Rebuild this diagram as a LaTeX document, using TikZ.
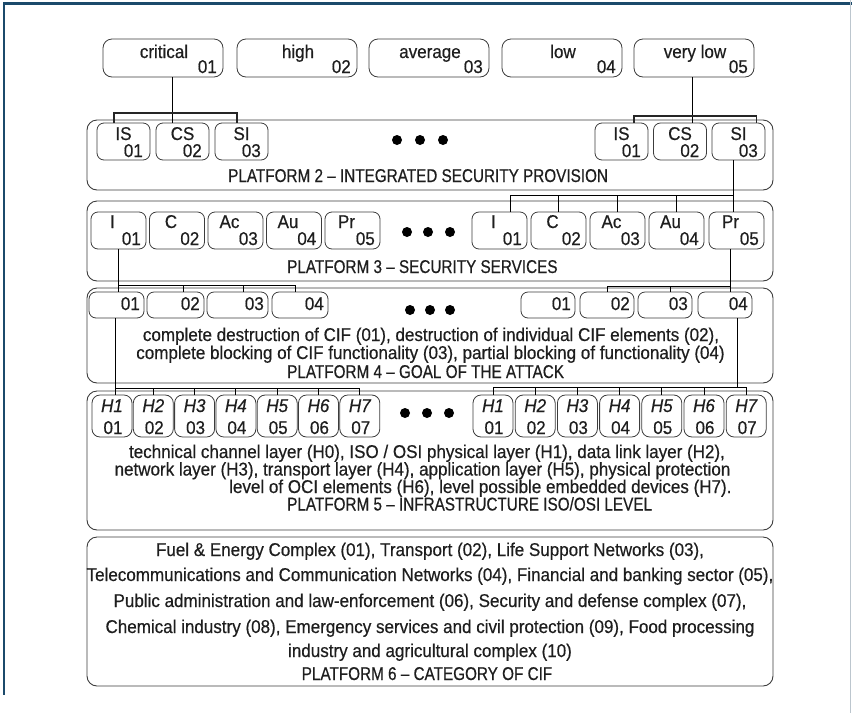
\documentclass[tikz,border=0pt]{standalone}
\usepackage{fontspec}
\setmainfont{Liberation Sans}
\newfontfamily\bodyf{Liberation Sans}[FakeStretch=0.92,FakeBold=0.5]
\newfontfamily\titlef{Liberation Sans}[FakeStretch=0.826,FakeBold=0.5]
\usetikzlibrary{calc}
\definecolor{frameblue}{HTML}{1B4A6B}
\definecolor{framegray}{HTML}{BCC6CE}
\definecolor{outl}{HTML}{3C3C3C}
\definecolor{ink}{HTML}{1E1E1E}
\begin{document}
\begin{tikzpicture}[x=1pt,y=-1pt,
  bigbox/.style={draw=outl, line width=0.9pt, rounded corners=10pt, inner sep=0pt, outer sep=0pt, anchor=north west},
  sbox/.style={draw=outl, line width=0.8pt, rounded corners=7pt, inner sep=0pt, outer sep=0pt, anchor=north west},
  conn/.style={draw=black, line width=0.9pt},
  brk/.style={draw=black!85, line width=1.6pt},
  bt/.style={font=\bodyf\fontsize{18.5}{18}\selectfont, text=ink, inner sep=0pt, anchor=base},
  btr/.style={bt, anchor=base east},
  btw/.style={bt, anchor=base west},
  tt/.style={font=\titlef\fontsize{18.5}{18}\selectfont, text=ink, inner sep=0pt, anchor=base west},
  ttc/.style={tt, anchor=base},
  ht/.style={font=\bodyf\itshape\fontsize{18.5}{18}\selectfont, text=ink, inner sep=0pt, anchor=base},
  bigdot/.style={circle, fill=black, minimum size=10pt, inner sep=0pt}]
\useasboundingbox (0,0) rectangle (852,713);
% frame
\draw[frameblue, line width=2.6pt] (852,3.5) -- (3.8,3.5) -- (3.8,695);
\draw[framegray, line width=1pt] (850.5,0) -- (850.5,713);

% top level boxes
\foreach \x/\lab/\num [count=\i] in {103/critical/01,237/high/02,369/average/03,502/low/04,634/very low/05}{
  \node[sbox, rounded corners=9pt, minimum width=120pt, minimum height=38pt] (t\i) at (\x,39) {};
  \node[bt] (tl\i) at ($(t\i.north)+(1,19)$) {\lab};
  \node[btr] (tn\i) at ($(t\i.north east)+(-6,34)$) {\num};
}

% platform 2
\node[bigbox, minimum width=686pt, minimum height=70pt] (p2) at (87,120) {};
\foreach \x/\lab/\num [count=\i] in {97/IS/01,156/CS/02,215/SI/03}{
  \node[sbox, minimum width=53pt, minimum height=37pt] (p2a\i) at (\x,123) {};
  \node[bt] (p2al\i) at ($(p2a\i.north)+(0,17)$) {\lab};
  \node[btr] (p2an\i) at ($(p2a\i.north east)+(-7,34)$) {\num};
}
\foreach \x/\lab/\num [count=\i] in {595/IS/01,653.5/CS/02,712/SI/03}{
  \node[sbox, minimum width=53pt, minimum height=37pt] (p2b\i) at (\x,123) {};
  \node[bt] (p2bl\i) at ($(p2b\i.north)+(0,17)$) {\lab};
  \node[btr] (p2bn\i) at ($(p2b\i.north east)+(-7,34)$) {\num};
}
\node[bigdot] (d2a) at (397,140) {};
\node[bigdot] (d2b) at (420,140) {};
\node[bigdot] (d2c) at (443,140) {};
\node[tt] (p2t) at (228,182) {PLATFORM 2 – INTEGRATED SECURITY PROVISION};

\draw[conn] ([xshift=9pt]t1.south) -- ([xshift=9pt]t1.south |- p2a2.north);
\draw[brk] ([xshift=-9.5pt]p2a1.north) -- ++(0,-10) -| ([xshift=-4.5pt]p2a3.north);
\draw[conn] ([xshift=-2pt]t5.south) -- ([xshift=-2pt]t5.south |- p2b2.north);
\draw[brk] ([xshift=12.5pt]p2b1.north) -- ++(0,-7) -| ([xshift=18pt]p2b3.north);

% platform 3
\node[bigbox, minimum width=686pt, minimum height=80pt] (p3) at (87,201) {};
\foreach \x/\lab/\num [count=\i] in {91/I/01,149.5/C/02,208/Ac/03,266.5/Au/04,325/Pr/05}{
  \node[sbox, minimum width=55pt, minimum height=37pt] (p3a\i) at (\x,212) {};
  \node[bt] (p3al\i) at ($(p3a\i.north)+(-6,16)$) {\lab};
  \node[btr] (p3an\i) at ($(p3a\i.north east)+(-5,33)$) {\num};
}
\foreach \x/\lab/\num [count=\i] in {472/I/01,531/C/02,590/Ac/03,649/Au/04,709/Pr/05}{
  \node[sbox, minimum width=55pt, minimum height=37pt] (p3b\i) at (\x,212) {};
  \node[bt] (p3bl\i) at ($(p3b\i.north)+(-6,16)$) {\lab};
  \node[btr] (p3bn\i) at ($(p3b\i.north east)+(-5,33)$) {\num};
}
\node[bigdot] (d3a) at (407,232) {};
\node[bigdot] (d3b) at (428,232) {};
\node[bigdot] (d3c) at (450,232) {};
\node[tt] (p3t) at (287,273) {PLATFORM 3 – SECURITY SERVICES};

\coordinate (bus3) at (0,195);
\draw[conn] ([xshift=-5pt]p2b3.south) -- ([xshift=-5pt]p2b3.south |- p3b5.north);
\draw[conn] ([xshift=11pt]p3b1.north) -- ([xshift=11pt]p3b1.north |- bus3) -- ([xshift=-5pt]p2b3.south |- bus3);
\foreach \k in {2,3,4} \draw[conn] (p3b\k.north) -- (p3b\k.north |- bus3);

% platform 4
\node[bigbox, minimum width=686pt, minimum height=95pt] (p4) at (87,288) {};
\foreach \x/\w/\num [count=\i] in {89/55pt/01,147/57pt/02,207/61pt/03,272/56pt/04}{
  \node[sbox, minimum width=\w, minimum height=26pt] (p4a\i) at (\x,292) {};
  \node[btr] (p4an\i) at ($(p4a\i.north east)+(-4,18)$) {\num};
}
\foreach \x/\w/\num [count=\i] in {521/54pt/01,580/54pt/02,638/54pt/03,698/54pt/04}{
  \node[sbox, minimum width=\w, minimum height=26pt] (p4b\i) at (\x,292) {};
  \node[btr] (p4bn\i) at ($(p4b\i.north east)+(-4,18)$) {\num};
}
\node[bigdot] (d4a) at (410,310) {};
\node[bigdot] (d4b) at (430,310) {};
\node[bigdot] (d4c) at (450,310) {};
\node[bt] (p4l1) at (431,341) {complete destruction of CIF (01), destruction of individual CIF elements (02),};
\node[bt] (p4l2) at (430.5,359) {complete blocking of CIF functionality (03), partial blocking of functionality (04)};
\node[tt] (p4t) at (287,378) {PLATFORM 4 – GOAL OF THE ATTACK};

\coordinate (bus4l) at (0,285);
\draw[conn] (p3a1.south) -- (p3a1.south |- p4a1.north);
\draw[conn] (p3a1.south |- bus4l) -- ([xshift=-5pt]p4a4.north |- bus4l) -- ([xshift=-5pt]p4a4.north);
\draw[conn] ([xshift=8pt]p4a2.north) -- ([xshift=8pt]p4a2.north |- bus4l);
\draw[conn] ([xshift=6pt]p4a3.north) -- ([xshift=6pt]p4a3.north |- bus4l);
\coordinate (bus4r) at (0,286);
\draw[conn] ([xshift=-6pt]p3b5.south) -- ([xshift=-6pt]p3b5.south |- p4b4.north);
\draw[conn] (p4b2.north) -- (p4b2.north |- bus4r) -- ([xshift=-6pt]p3b5.south |- bus4r);
\draw[conn] ([xshift=5pt]p4b3.north) -- ([xshift=5pt]p4b3.north |- bus4r);

% platform 5
\node[bigbox, minimum width=686pt, minimum height=139pt] (p5) at (87,391) {};
\foreach \x [count=\i] in {92,133.3,174.6,215.9,257.2,298.5,339.8}{
  \node[sbox, rounded corners=8pt, minimum width=40pt, minimum height=42pt] (p5a\i) at (\x,395) {};
  \node[ht] (p5al\i) at ($(p5a\i.north)+(0,17)$) {H\i};
  \node[bt] (p5an\i) at ($(p5a\i.north)+(1,39)$) {0\i};
}
\foreach \x [count=\i] in {473,515.2,557.4,599.6,641.8,684,726.2}{
  \node[sbox, rounded corners=8pt, minimum width=40pt, minimum height=42pt] (p5b\i) at (\x,395) {};
  \node[ht] (p5bl\i) at ($(p5b\i.north)+(0,17)$) {H\i};
  \node[bt] (p5bn\i) at ($(p5b\i.north)+(1,39)$) {0\i};
}
\node[bigdot] (d5a) at (405,413) {};
\node[bigdot] (d5b) at (427,413) {};
\node[bigdot] (d5c) at (449,413) {};
\node[bt] (p5l1) at (427,458) {technical channel layer (H0), ISO / OSI physical layer (H1), data link layer (H2),};
\node[bt] (p5l2) at (422.5,475.5) {network layer (H3), transport layer (H4), application layer (H5), physical protection};
\node[btw] (p5l3) at (229,493) {level of OCI elements (H6), level possible embedded devices (H7).};
\node[tt] (p5t) at (287,510.5) {PLATFORM 5 – INFRASTRUCTURE ISO/OSI LEVEL};

\coordinate (bus5l) at (0,388);
\draw[conn] ([xshift=-1pt]p4a1.south) -- ([xshift=-1pt]p4a1.south |- p5a1.north);
\draw[conn] ([xshift=-1pt]p4a1.south |- bus5l) -- (p5a7.north |- bus5l) -- (p5a7.north);
\foreach \k in {2,...,6} \draw[conn] (p5a\k.north) -- (p5a\k.north |- bus5l);
\coordinate (bus5r) at (0,387);
\draw[conn] ([xshift=12pt]p4b4.south) -- ([xshift=12pt]p4b4.south |- bus5r);
\draw[conn] (p5b1.north) -- (p5b1.north |- bus5r) -- (p5b7.north |- bus5r) -- (p5b7.north);
\foreach \k in {2,...,6} \draw[conn] (p5b\k.north) -- (p5b\k.north |- bus5r);

% platform 6
\node[bigbox, minimum width=686pt, minimum height=149pt] (p6) at (87,537) {};
\node[bt] (p6l1) at (430,556) {Fuel \& Energy Complex (01), Transport (02), Life Support Networks (03),};
\node[bt] (p6l2) at (430,581) {Telecommunications and Communication Networks (04), Financial and banking sector (05),};
\node[bt] (p6l3) at (430,607) {Public administration and law-enforcement (06), Security and defense complex (07),};
\node[bt] (p6l4) at (430,633) {Chemical industry (08), Emergency services and civil protection (09), Food processing};
\node[bt] (p6l5) at (430,657) {industry and agricultural complex (10)};
\node[ttc] (p6t) at (427,680) {PLATFORM 6 – CATEGORY OF CIF};
\end{tikzpicture}
\end{document}
